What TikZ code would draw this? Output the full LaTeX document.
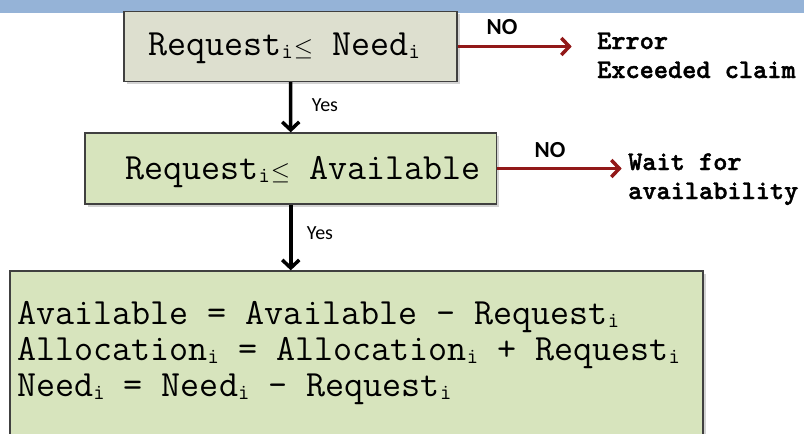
\documentclass[tikz,border=0pt]{standalone}
\usepackage{fontspec}
\newfontfamily\calibf{Carlito}
\newfontfamily\monob{lmmonolt10-bold.otf}[FakeBold=1.6]
\usetikzlibrary{arrows.meta,shadows}
\definecolor{bandblue}{RGB}{149,179,215}
\definecolor{boxgray}{RGB}{221,223,207}
\definecolor{boxgreen}{RGB}{215,228,189}
\definecolor{darkred}{RGB}{146,24,24}
\newcommand{\isub}{{\fontsize{22}{22}\selectfont\raisebox{-3.5pt}{i}}}
\newcommand{\leqsign}{\kern1pt$\leq$}
\begin{document}
\begin{tikzpicture}[x=1pt,y=-1pt,
  box/.style={draw=black!75, line width=1.3pt, inner sep=0pt,
    drop shadow={shadow xshift=2.5pt,shadow yshift=-2.5pt,opacity=0.35}},
  maintext/.style={font=\ttfamily\fontsize{37}{36}\selectfont, inner sep=0pt, anchor=base west},
  sidetext/.style={font=\monob\fontsize{27}{29}\selectfont, inner sep=0pt, anchor=base west, align=left},
  yeslabel/.style={font=\calibf\fontsize{20}{24}\selectfont, inner sep=0pt},
  nolabel/.style={font=\calibf\bfseries\fontsize{23}{26}\selectfont, inner sep=0pt},
  blackarrow/.style={line width=3.5pt, black, -{Straight Barb[length=8pt,width=17pt]}},
  redarrow/.style={line width=3.5pt, darkred, -{Straight Barb[length=8pt,width=17pt]}}
]
\useasboundingbox (0,0) rectangle (804,434);
\clip (0,0) rectangle (804,434);
\fill[bandblue] (0,0) rectangle (804,12.5);

\node[box, fill=boxgray, minimum width=333pt, minimum height=70pt] (b1) at (290.5,46.5) {};
\node[box, fill=boxgreen, minimum width=411.5pt, minimum height=71pt] (b2) at (290.75,168.5) {};
\node[box, fill=boxgreen, minimum width=693pt, minimum height=189pt] (b3) at (356.5,365.5) {};

\node[maintext] (t1) at (148,55) {Request\isub\leqsign{} Need\isub};
\node[maintext] (t2) at (125,179) {Request\isub\leqsign{} Available};
\node[maintext, align=left] (t3) at (17,396) {Available = Available – Request\isub\\
Allocation\isub{} = Allocation\isub{} + Request\isub\\
Need\isub{} = Need\isub{} - Request\isub};

\coordinate (e1) at (571.7,46.5);
\coordinate (e2) at (621.7,168.5);
\draw[redarrow] (b1.east) -- (e1);
\draw[redarrow] (b2.east) -- (e2);
\draw[blackarrow] (b1.south) -- (b2.north);
\draw[blackarrow] (b2.south) -- (b2.south |- b3.north);

\node[yeslabel] (y1) at (325,105) {Yes};
\node[yeslabel] (y2) at (320,233) {Yes};
\node[nolabel] (n1) at (502,27) {NO};
\node[nolabel] (n2) at (550,150) {NO};

\node[sidetext] (s1) at (597,78) {Error\\Exceeded claim};
\node[sidetext] (s3) at (628,199) {Wait for\\availability};
\end{tikzpicture}
\end{document}
